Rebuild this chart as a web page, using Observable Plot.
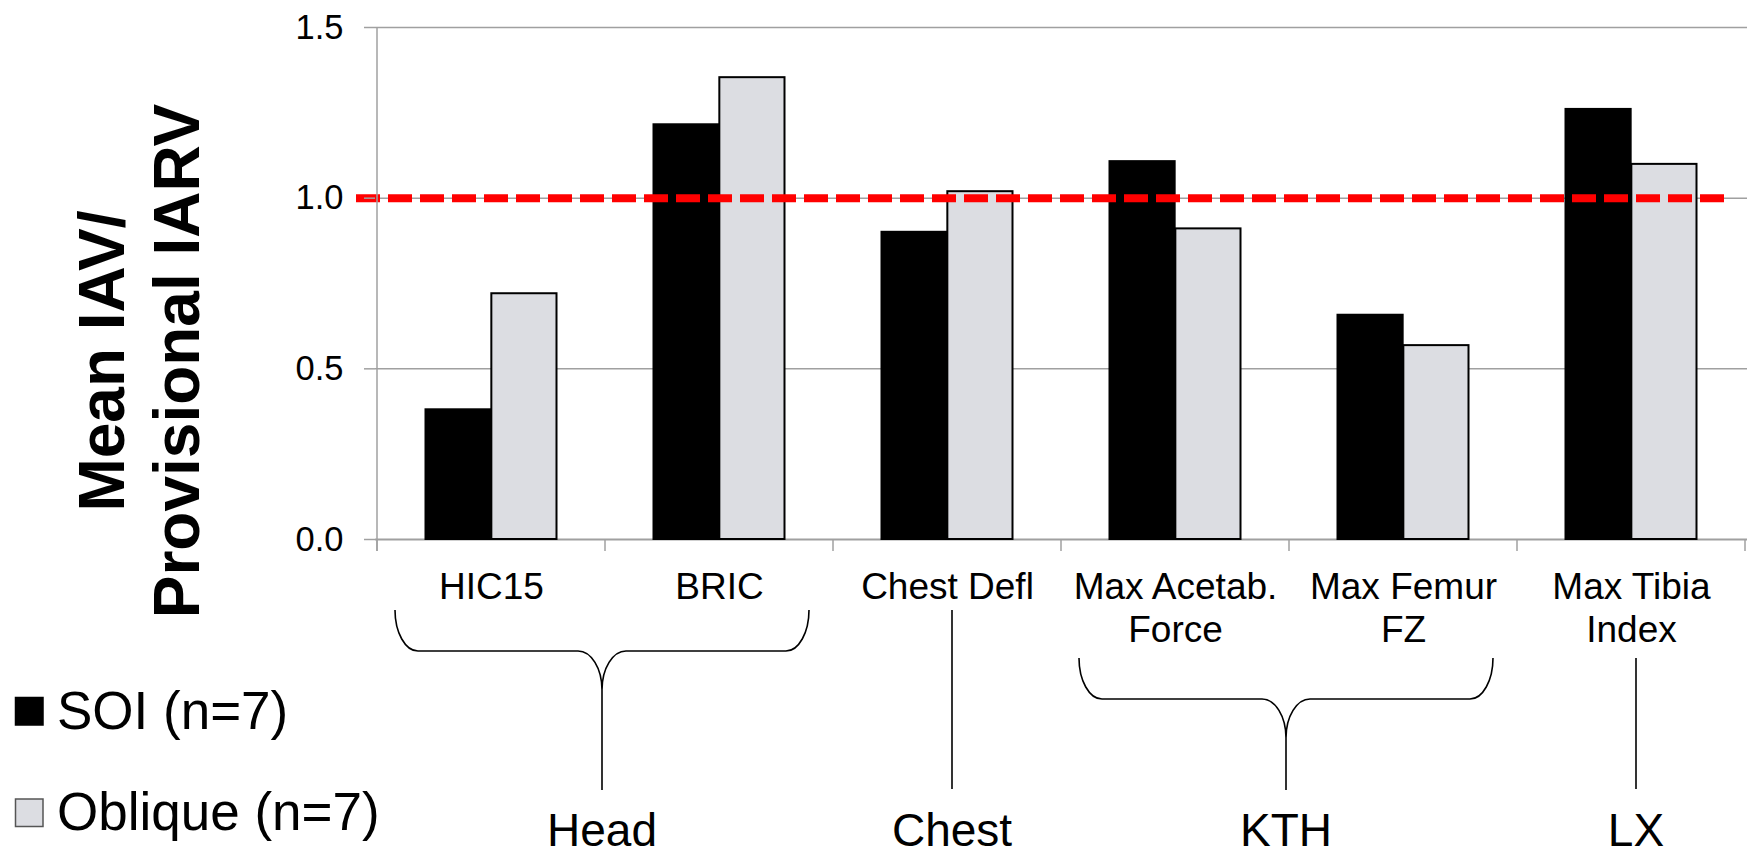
<!DOCTYPE html>
<html><head><meta charset="utf-8">
<script src="https://cdn.jsdelivr.net/npm/d3@7"></script>
<script src="https://cdn.jsdelivr.net/npm/@observablehq/plot@0.6"></script>
<style>html,body{margin:0;padding:0;background:#fff}</style>
</head><body><div id="chart"></div>
<script>
// ---- data ----
const categories = ["HIC15", "BRIC", "Chest Defl", "Max Acetab.\nForce", "Max Femur\nFZ", "Max Tibia\nIndex"];
const soiValues = [0.38, 1.215, 0.90, 1.107, 0.657, 1.26];
const obliqueValues = [0.72, 1.353, 1.019, 0.91, 0.568, 1.099];
const seriesNames = ["SOI (n=7)", "Oblique (n=7)"];
const seriesColors = ["#000000", "#dcdde2"];
const yTicks = [0, 0.5, 1.0, 1.5];
const threshold = [1.0];
const groupLabels = ["Head", "Chest", "KTH", "LX"];
const groupMembers = [["HIC15", "BRIC"], ["Chest Defl"], ["Max Acetab.\nForce", "Max Femur\nFZ"], ["Max Tibia\nIndex"]];
const yTitle = ["Mean IAV/", "Provisional IARV"];

const rows = categories.flatMap((c, i) => [
  {cat: c, series: seriesNames[0], value: soiValues[i]},
  {cat: c, series: seriesNames[1], value: obliqueValues[i]}
]);

const FONT = "'Liberation Sans', Arial, Helvetica, sans-serif";
const W = 1754, H = 856;
const bwApprox = (W - 375 - 7) / categories.length;

const plot = Plot.plot({
  width: W, height: H,
  marginLeft: 375, marginRight: 7, marginTop: 27, marginBottom: 317,
  style: {fontFamily: FONT, background: "white", color: "black", overflow: "visible"},
  x: {type: "band", domain: categories, paddingInner: 0, paddingOuter: 0, label: null},
  y: {domain: [0, 1.5], label: null},
  color: {domain: seriesNames, range: seriesColors},
  marks: [
    Plot.gridY(yTicks.filter(t => t > 0), {stroke: "#a0a0a0", strokeOpacity: 1, strokeWidth: 1.5}),
    Plot.ruleY([0], {stroke: "#a0a0a0", strokeWidth: 2}),
    Plot.barY(rows.filter(r => r.series === seriesNames[0]), {
      x: "cat", y: "value", fill: "series", stroke: "black", strokeWidth: 2,
      insetLeft: 48.5, insetRight: bwApprox / 2
    }),
    Plot.barY(rows.filter(r => r.series === seriesNames[1]), {
      x: "cat", y: "value", fill: "series", stroke: "black", strokeWidth: 2,
      insetLeft: bwApprox / 2, insetRight: 48.5
    }),
    Plot.ruleY(threshold, {stroke: "#ff0000", strokeWidth: 8, strokeDasharray: "24,8", dx: -19}),
    Plot.axisY({ticks: yTicks, tickFormat: d3.format(".1f"), tickSize: 11, tickPadding: 21,
      fontSize: 34.5, stroke: "#a0a0a0", strokeWidth: 1.5, fill: "black", label: null}),
    Plot.axisX({tickSize: 0, tickPadding: 29, fontSize: 37, lineHeight: 1.16, fill: "black", label: null})
  ]
});

document.getElementById("chart").appendChild(plot);

// ---- annotations using the plot's own scales ----
const xs = plot.scale("x");
const ys = plot.scale("y");
const bw = xs.bandwidth;
const left = c => xs.apply(c);
const svg = d3.select(plot);
const y0 = ys.apply(0);

// y axis line and category boundary ticks
const ann = svg.append("g").attr("stroke", "#a0a0a0").attr("stroke-width", 1.5);
ann.append("line").attr("x1", left(categories[0])).attr("x2", left(categories[0]))
  .attr("y1", ys.apply(1.5)).attr("y2", y0 + 12);
categories.forEach(c => {
  ann.append("line").attr("x1", left(c)).attr("x2", left(c)).attr("y1", y0).attr("y2", y0 + 12);
});
const lastRight = left(categories[categories.length - 1]) + bw;
ann.append("line").attr("x1", lastRight).attr("x2", lastRight).attr("y1", y0).attr("y2", y0 + 12);

// braces and group labels
const g = svg.append("g").attr("fill", "none").attr("stroke", "black").attr("stroke-width", 1.6);
const gl = svg.append("g").attr("font-family", FONT).attr("font-size", 46).attr("fill", "black").attr("text-anchor", "middle");
groupLabels.forEach((lab, i) => {
  const mem = groupMembers[i];
  const multi = mem.some(m => m.includes("\n"));
  const yT = multi ? 658 : 610;
  const yE = 790;
  let xm;
  if (mem.length > 1) {
    const x0 = left(mem[0]) + 18;
    const x1 = left(mem[mem.length - 1]) + bw - 24;
    xm = (x0 + x1) / 2;
    const yH = yT + 41, yC = yH + 39;
    const w = 23, h = yH - yT, cw = 24, ch = yC - yH;
    const k = 0.552;
    const p = d3.path();
    p.moveTo(x0, yT);
    p.bezierCurveTo(x0, yT + k * h, x0 + w - k * w, yH, x0 + w, yH);
    p.lineTo(xm - cw, yH);
    p.bezierCurveTo(xm - cw + k * cw, yH, xm, yC - k * ch, xm, yC);
    p.moveTo(x1, yT);
    p.bezierCurveTo(x1, yT + k * h, x1 - w + k * w, yH, x1 - w, yH);
    p.lineTo(xm + cw, yH);
    p.bezierCurveTo(xm + cw - k * cw, yH, xm, yC - k * ch, xm, yC);
    p.moveTo(xm, yC);
    p.lineTo(xm, yE);
    g.append("path").attr("d", p.toString());
  } else {
    xm = left(mem[0]) + bw / 2 + 5;
    g.append("line").attr("x1", xm).attr("x2", xm).attr("y1", yT).attr("y2", yE - 1);
  }
  gl.append("text").attr("x", xm).attr("y", 846).text(lab);
});

// legend
const lg = svg.append("g").attr("font-family", FONT).attr("font-size", 53).attr("fill", "black")
  .attr("text-anchor", "start");
const legendRows = [{y: 697.5, base: 729}, {y: 799, base: 830}];
seriesNames.forEach((s, i) => {
  lg.append("rect").attr("x", 15.5).attr("y", legendRows[i].y).attr("width", 27.5).attr("height", 27.5)
    .attr("fill", seriesColors[i]).attr("stroke", i === 0 ? "black" : "#555").attr("stroke-width", 1.5);
  lg.append("text").attr("x", 57).attr("y", legendRows[i].base).text(s);
});

// y-axis title (two lines, rotated)
const tg = svg.append("g").attr("font-family", FONT).attr("font-size", 64).attr("font-weight", "bold")
  .attr("fill", "black").attr("text-anchor", "middle");
[124, 199].forEach((bx, i) => {
  tg.append("text").attr("transform", `translate(${bx},361) rotate(-90)`).text(yTitle[i]);
});
</script>
</body></html>
